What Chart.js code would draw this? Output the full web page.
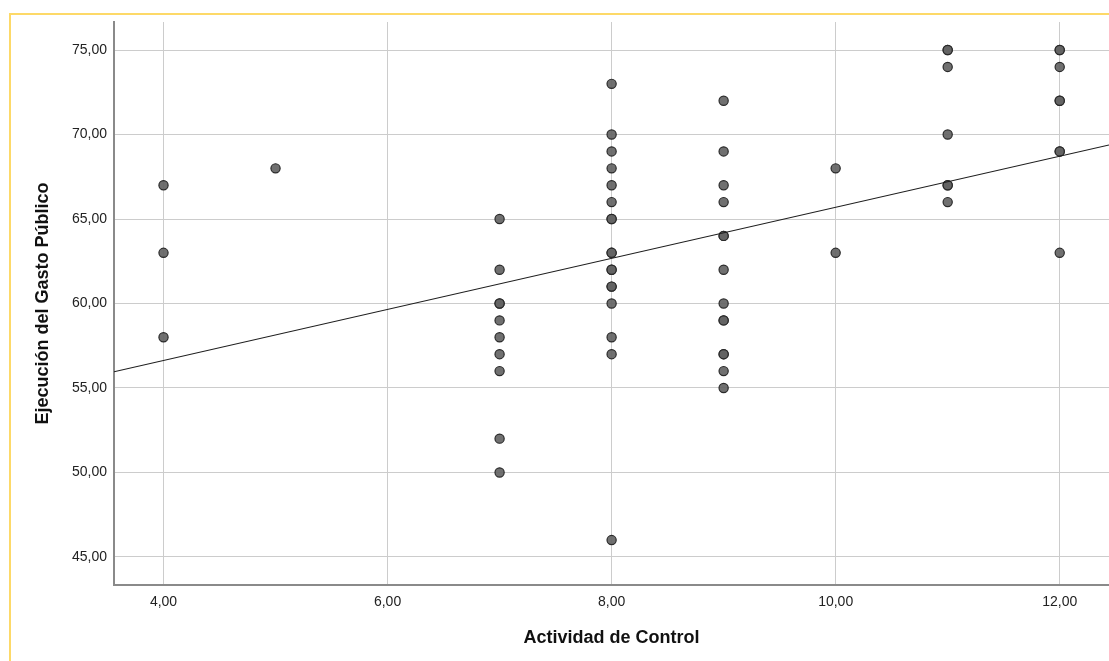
<!DOCTYPE html>
<html>
<head>
<meta charset="utf-8">
<script src="https://cdn.jsdelivr.net/npm/chart.js@4"></script>
<style>
    body { margin: 0; background: #fff; overflow: hidden; }
    #frame {
        position: absolute; left: 9px; top: 13px;
        width: 1300px; height: 900px;
        border-top: 2px solid #fdd968; border-left: 2px solid #fdd968;
    }
    #scatter { position: absolute; left: 0; top: 0; }
</style>
</head>
<body>
<div id="frame"></div>
<canvas id="scatter" width="1109" height="661"></canvas>
<script>
// Actividad de Control (x) vs Ejecución del Gasto Público (y), one entry per case
const controlScores = [
    4, 4, 4,
    5,
    7, 7, 7, 7, 7, 7, 7, 7, 7, 7,
    8, 8, 8, 8, 8, 8, 8, 8, 8, 8, 8, 8, 8, 8, 8, 8, 8, 8,
    9, 9, 9, 9, 9, 9, 9, 9, 9, 9, 9, 9, 9, 9,
    10, 10,
    11, 11, 11, 11, 11, 11, 11,
    12, 12, 12, 12, 12, 12, 12, 12
];
const spendingScores = [
    67, 63, 58,
    68,
    65, 62, 60, 60, 59, 58, 57, 56, 52, 50,
    73, 70, 69, 68, 67, 66, 65, 65, 63, 63, 62, 62, 61, 61, 60, 58, 57, 46,
    72, 69, 67, 66, 64, 64, 62, 60, 59, 59, 57, 57, 56, 55,
    68, 63,
    75, 75, 74, 70, 67, 67, 66,
    75, 75, 74, 72, 72, 69, 69, 63
];

// fitted line, read at both ends of the x range
const fitLineX = [3.558, 12.44];
const fitLineY = [55.96, 69.38];

const xTicks = [4, 6, 8, 10, 12];
const yTicks = [45, 50, 55, 60, 65, 70, 75];
const xRange = [3.558, 12.44];
const yRange = [43.34, 76.66];

const FONT = "'Liberation Sans', Arial, sans-serif";

function commaFmt(v) {
    return Number(v).toFixed(2).replace(".", ",");
}

const ctx = document.getElementById("scatter").getContext("2d");
const chart = new Chart(ctx, {
    type: "scatter",
    data: {
        datasets: [
            {
                type: "line",
                data: fitLineX.map((x, i) => ({ x: x, y: fitLineY[i] })),
                borderColor: "#1e1e1e",
                borderWidth: 1.2,
                pointRadius: 0,
                fill: false,
                order: 0
            },
            {
                data: controlScores.map((x, i) => ({ x: x, y: spendingScores[i] })),
                backgroundColor: "rgba(100,100,100,0.92)",
                borderColor: "#2a2a2a",
                borderWidth: 1.2,
                pointRadius: 4.6,
                order: 1
            }
        ]
    },
    options: {
        responsive: false,
        animation: false,
        layout: {
            autoPadding: false,
            padding: { top: 22, right: 0, bottom: 0, left: 0 }
        },
        plugins: { legend: { display: false }, tooltip: { enabled: false } },
        scales: {
            x: {
                type: "linear",
                min: xRange[0],
                max: xRange[1],
                afterBuildTicks: s => { s.ticks = xTicks.map(v => ({ value: v })); },
                afterFit: s => {
                    s.height = 76;
                    // let the plot run right to the canvas edge
                    s.paddingLeft = 0;
                    s.paddingRight = 0;
                },
                grid: { color: "#cccccc", lineWidth: 1, drawTicks: false },
                border: { color: "#8a8a8a", width: 2 },
                ticks: {
                    callback: commaFmt,
                    color: "#222",
                    padding: 9,
                    maxRotation: 0,
                    font: { family: FONT, size: 14 }
                },
                title: {
                    display: true,
                    text: "Actividad de Control",
                    color: "#111",
                    padding: { top: 0, bottom: 12 },
                    font: { family: FONT, size: 18, weight: "bold" }
                }
            },
            y: {
                type: "linear",
                min: yRange[0],
                max: yRange[1],
                afterBuildTicks: s => { s.ticks = yTicks.map(v => ({ value: v })); },
                afterFit: s => {
                    s.width = 114;
                    s.paddingTop = 0;
                    s.paddingBottom = 0;
                },
                grid: { color: "#cccccc", lineWidth: 1, drawTicks: false },
                border: { color: "#8a8a8a", width: 2 },
                ticks: {
                    callback: commaFmt,
                    color: "#222",
                    padding: 7,
                    font: { family: FONT, size: 14 }
                },
                title: {
                    display: true,
                    text: "Ejecución del Gasto Público",
                    color: "#111",
                    padding: { top: 32, bottom: 0 },
                    font: { family: FONT, size: 18, weight: "bold" }
                }
            }
        }
    }
});
</script>
</body>
</html>
